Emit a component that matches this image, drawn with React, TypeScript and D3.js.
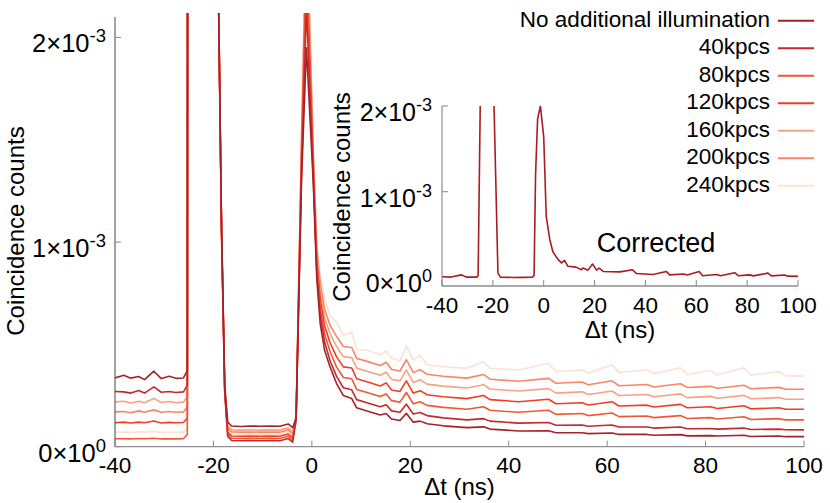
import { line, scaleLinear } from "d3";

const WIDTH = 830;
const HEIGHT = 503;
const FONT = "'Liberation Sans', Arial, Helvetica, sans-serif";

// time bins (ns) shared by the main-panel curves
const TIME = [
  -40, -38.2, -36.8, -35.2, -34, -32.1, -30.6, -29, -27.6, -26.1, -25.3, -24.7, -19.3, -19, -18.35, -17.7,
  -17.1, -16.3, -14.5, -12.5, -10.5, -8.5, -6.5, -4.8, -3.9, -3.2, -2.1, -1.1, 0.3, 1, 1.7, 2.6,
  3.7, 5, 6.4, 8.1, 9.1, 11.2, 13.9, 15.1, 16.2, 17.9, 19.2, 20.6, 22, 23.4, 26.7, 31.5, 34.9,
  36.2, 42, 48.1, 49.6, 54.9, 56.2, 61, 62.4, 68.1, 69.5, 74.9, 76.3, 81, 82.4, 87.8, 89.2, 94.9, 96.3, 100,
];

// coincidence counts, in units of 1e-3
const NO_ILLUM = [
  0.336, 0.349, 0.335, 0.343, 0.328, 0.369, 0.333, 0.344, 0.334, 0.336, 0.372, 30, 30, 2.25, 1.08, 0.3,
  0.121, 0.101, 0.099, 0.101, 0.1, 0.101, 0.1, 0.111, 0.093, 0.14, 1.3, 1.95, 1.28, 0.82, 0.6, 0.47,
  0.39, 0.31, 0.25, 0.235, 0.19, 0.175, 0.155, 0.162, 0.135, 0.128, 0.163, 0.12, 0.125, 0.112, 0.102, 0.093, 0.097,
  0.086, 0.077, 0.078, 0.068, 0.068, 0.064, 0.067, 0.06, 0.06, 0.056, 0.059, 0.053, 0.054, 0.052, 0.056, 0.05, 0.052, 0.049, 0.049,
];
const K40 = [
  0.27, 0.268, 0.262, 0.275, 0.262, 0.292, 0.266, 0.27, 0.265, 0.268, 0.3, 30, 30, 2.23, 1.04, 0.26,
  0.05, 0.03, 0.029, 0.03, 0.029, 0.03, 0.029, 0.04, 0.022, 0.13, 1.34, 2.15, 1.31, 0.85, 0.64, 0.51,
  0.42, 0.345, 0.288, 0.278, 0.23, 0.215, 0.195, 0.205, 0.175, 0.168, 0.208, 0.16, 0.167, 0.152, 0.141, 0.131, 0.137,
  0.125, 0.115, 0.118, 0.105, 0.106, 0.1, 0.106, 0.096, 0.096, 0.091, 0.096, 0.088, 0.089, 0.086, 0.091, 0.084, 0.086, 0.083, 0.082,
];
const K80 = [
  0.039, 0.039, 0.038, 0.04, 0.039, 0.041, 0.038, 0.039, 0.038, 0.039, 0.06, 30, 30, 2.27, 1.05, 0.27,
  0.061, 0.041, 0.04, 0.041, 0.04, 0.041, 0.04, 0.051, 0.033, 0.135, 1.38, 2.3, 1.34, 0.88, 0.68, 0.55,
  0.465, 0.39, 0.338, 0.332, 0.28, 0.265, 0.245, 0.258, 0.225, 0.218, 0.265, 0.21, 0.22, 0.202, 0.192, 0.183, 0.195,
  0.178, 0.168, 0.178, 0.158, 0.162, 0.152, 0.165, 0.147, 0.15, 0.142, 0.152, 0.138, 0.142, 0.135, 0.146, 0.133, 0.137, 0.131, 0.131,
];
const K120 = [
  0.117, 0.12, 0.116, 0.12, 0.117, 0.126, 0.116, 0.119, 0.117, 0.118, 0.14, 30, 30, 2.26, 1.06, 0.28,
  0.072, 0.052, 0.051, 0.052, 0.051, 0.052, 0.051, 0.062, 0.044, 0.14, 1.42, 2.4, 1.37, 0.91, 0.72, 0.59,
  0.508, 0.44, 0.39, 0.385, 0.332, 0.317, 0.297, 0.312, 0.277, 0.27, 0.322, 0.262, 0.274, 0.254, 0.244, 0.235, 0.25,
  0.23, 0.22, 0.232, 0.21, 0.215, 0.204, 0.22, 0.199, 0.203, 0.194, 0.207, 0.19, 0.195, 0.187, 0.2, 0.185, 0.19, 0.183, 0.183,
];
const K160 = [
  0.219, 0.222, 0.214, 0.222, 0.215, 0.236, 0.216, 0.221, 0.215, 0.218, 0.245, 30, 30, 2.28, 1.07, 0.29,
  0.102, 0.082, 0.081, 0.082, 0.081, 0.082, 0.081, 0.092, 0.074, 0.15, 1.46, 2.5, 1.4, 0.94, 0.76, 0.63,
  0.552, 0.49, 0.44, 0.435, 0.384, 0.369, 0.349, 0.364, 0.329, 0.322, 0.375, 0.314, 0.327, 0.306, 0.296, 0.287, 0.303,
  0.282, 0.272, 0.284, 0.262, 0.268, 0.255, 0.272, 0.25, 0.255, 0.244, 0.258, 0.24, 0.246, 0.237, 0.251, 0.234, 0.24, 0.232, 0.232,
];
const K200 = [
  0.17, 0.172, 0.166, 0.175, 0.168, 0.18, 0.168, 0.172, 0.168, 0.17, 0.195, 30, 30, 2.27, 1.06, 0.28,
  0.092, 0.072, 0.071, 0.072, 0.071, 0.072, 0.071, 0.082, 0.064, 0.145, 1.5, 2.6, 1.43, 0.97, 0.8, 0.67,
  0.592, 0.54, 0.49, 0.485, 0.432, 0.417, 0.397, 0.413, 0.377, 0.37, 0.425, 0.362, 0.377, 0.354, 0.344, 0.335, 0.353,
  0.33, 0.32, 0.334, 0.31, 0.316, 0.303, 0.322, 0.298, 0.304, 0.292, 0.308, 0.289, 0.295, 0.286, 0.3, 0.283, 0.29, 0.281, 0.281,
];
const K240 = [
  0.071, 0.072, 0.07, 0.073, 0.071, 0.075, 0.07, 0.072, 0.07, 0.071, 0.09, 30, 30, 2.29, 1.08, 0.29,
  0.082, 0.062, 0.061, 0.062, 0.061, 0.062, 0.061, 0.072, 0.054, 0.145, 1.55, 2.7, 1.46, 1, 0.84, 0.72,
  0.64, 0.61, 0.545, 0.56, 0.475, 0.473, 0.448, 0.469, 0.432, 0.419, 0.492, 0.424, 0.448, 0.4, 0.391, 0.383, 0.416,
  0.383, 0.375, 0.408, 0.367, 0.375, 0.36, 0.4, 0.362, 0.375, 0.357, 0.386, 0.352, 0.372, 0.35, 0.386, 0.35, 0.367, 0.346, 0.345,
];

// inset: corrected curve
const INSET_TIME = [
  -40, -36.5, -32.3, -30.5, -28, -26.3, -25.8, -24.8, -24.5, -19.8, -19.7, -18, -17, -12, -8, -4.5, -3.8,
  -3.2, -2.4, -1.3, 0, 1, 2.4, 3.6, 5.6, 7, 8.2, 9.5, 12.7, 14.8, 15.4, 17.4, 19.2, 20.8, 21.8, 23.4, 30,
  34.9, 36.5, 43, 48.2, 49.5, 55, 56.5, 61.1, 62.5, 68.1, 69.5, 75.1, 76.5, 81, 82.5, 88.2, 89.5, 94.8, 96, 100,
];
const CORRECTED = [
  0.008, 0.004, 0.03, 0.004, 0.003, 0.003, 0.02, 2.4, 30, 30, 2.2, 0.05, 0.003, 0, 0.001, 0.003, 0.02,
  1.2, 1.85, 2, 1.64, 0.71, 0.44, 0.3, 0.21, 0.17, 0.2, 0.13, 0.12, 0.09, 0.11, 0.085, 0.156, 0.085, 0.11, 0.07, 0.065,
  0.09, 0.045, 0.035, 0.07, 0.03, 0.04, 0.028, 0.07, 0.02, 0.035, 0.02, 0.055, 0.02, 0.03, 0.018, 0.05, 0.018, 0.028, 0.015, 0.012,
];

const X_TICKS = [-40, -20, 0, 20, 40, 60, 80, 100];
const Y_TICKS = [0, 1, 2];
const Y_TICK_MANTISSA = ["0", "1", "2"];
const Y_TICK_EXPONENT = ["0", "-3", "-3"];

const SERIES = [
  { name: "No additional illumination", color: "#a5222b", values: NO_ILLUM },
  { name: "40kpcs", color: "#c22a2d", values: K40 },
  { name: "80kpcs", color: "#ef5837", values: K80 },
  { name: "120kpcs", color: "#f03d24", values: K120 },
  { name: "160kpcs", color: "#f9a282", values: K160 },
  { name: "200kpcs", color: "#fb8565", values: K200 },
  { name: "240kpcs", color: "#fde1d4", values: K240 },
];

const mainX = scaleLinear().domain([-40, 100]).range([115, 804]);
const mainY = scaleLinear().domain([0, 2.1]).range([446.7, 17]);
const insetX = scaleLinear().domain([-40, 100]).range([442, 798]);
const insetY = scaleLinear().domain([-0.1, 2]).range([286, 106]);

function YLabel({ x, y, mant, exp, size, supSize }) {
  return (
    <text x={x} y={y} textAnchor="end" fontSize={size}>
      {mant}×10
      <tspan fontSize={supSize} dy={-10}>{exp}</tspan>
    </text>
  );
}

export default function App() {
  const mainLine = line<number>()
    .x((_, i) => mainX(TIME[i]))
    .y((v) => mainY(v));
  const insetLine = line<number>()
    .x((_, i) => insetX(INSET_TIME[i]))
    .y((v) => insetY(v));

  const [mx0, mx1] = mainX.range();
  const [my0, my1] = mainY.range();
  const [ix0, ix1] = insetX.range();
  const [iy0, iy1] = insetY.range();

  return (
    <div style={{ position: "absolute", left: 0, top: 0 }}>
      <svg width={WIDTH} height={HEIGHT} viewBox={`0 0 ${WIDTH} ${HEIGHT}`} fontFamily={FONT} fill="#000">
        <defs>
          <clipPath id="main-clip">
            <rect x={mx0} y={13} width={mx1 - mx0} height={my0 - 13 + 1} />
          </clipPath>
          <clipPath id="inset-clip">
            <rect x={ix0} y={iy1} width={ix1 - ix0} height={iy0 - iy1} />
          </clipPath>
        </defs>

        {/* main panel curves */}
        <g clipPath="url(#main-clip)">
          {[...SERIES].reverse().map((s) => (
            <path key={s.name} d={mainLine(s.values) ?? ""} fill="none" stroke={s.color} strokeWidth={1.6} strokeLinejoin="round" />
          ))}
        </g>

        {/* main axes */}
        <line x1={mx0} x2={mx0} y1={my1} y2={my0} stroke="#444" strokeWidth={1} />
        <line x1={mx0} x2={mx1} y1={my0} y2={my0} stroke="#777" strokeWidth={1} />
        {X_TICKS.map((t) => (
          <g key={t}>
            <line x1={mainX(t)} x2={mainX(t)} y1={my0} y2={my0 - 6} stroke="#888" />
            <text x={mainX(t)} y={473} textAnchor="middle" fontSize={22.5}>{t}</text>
          </g>
        ))}
        {Y_TICKS.map((v, i) => (
          <g key={v}>
            <line x1={mx0} x2={mx0 + 6} y1={mainY(v)} y2={mainY(v)} stroke="#888" />
            <YLabel x={106} y={mainY(v) + 15} mant={Y_TICK_MANTISSA[i]} exp={Y_TICK_EXPONENT[i]} size={25.5} supSize={18.5} />
          </g>
        ))}
        <text x={(mx0 + mx1) / 2} y={495} textAnchor="middle" fontSize={24}>Δt (ns)</text>
        <text transform="translate(24,231) rotate(-90)" textAnchor="middle" fontSize={24}>Coincidence counts</text>

        {/* inset */}
        <g clipPath="url(#inset-clip)">
          <path d={insetLine(CORRECTED) ?? ""} fill="none" stroke="#a81c24" strokeWidth={1.6} strokeLinejoin="round" />
        </g>
        <line x1={ix0} x2={ix0} y1={iy1} y2={iy0} stroke="#777" />
        <line x1={ix0} x2={ix1} y1={iy0} y2={iy0} stroke="#555" />
        {X_TICKS.map((t) => (
          <g key={t}>
            <line x1={insetX(t)} x2={insetX(t)} y1={iy0} y2={iy0 - 6} stroke="#888" />
            <text x={insetX(t)} y={313} textAnchor="middle" fontSize={22.5}>{t}</text>
          </g>
        ))}
        {Y_TICKS.map((v, i) => (
          <g key={v}>
            {v > 0 ? <line x1={ix0} x2={ix0 + 6} y1={insetY(v)} y2={insetY(v)} stroke="#888" /> : null}
            <YLabel x={432} y={insetY(v) + 15} mant={Y_TICK_MANTISSA[i]} exp={Y_TICK_EXPONENT[i]} size={25} supSize={18} />
          </g>
        ))}
        <text x={(ix0 + ix1) / 2} y={338} textAnchor="middle" fontSize={24}>Δt (ns)</text>
        <text transform="translate(350,197) rotate(-90)" textAnchor="middle" fontSize={24}>Coincidence counts</text>
        <text x={656} y={252} textAnchor="middle" fontSize={27}>Corrected</text>

        {/* legend */}
        {SERIES.map((s, i) => {
          const base = 26.7 + i * 27.5;
          return (
            <g key={s.name}>
              <text x={770} y={base} textAnchor="end" fontSize={22.5}>{s.name}</text>
              <line x1={778} x2={814} y1={base - 6} y2={base - 6} stroke={s.color} strokeWidth={2} />
            </g>
          );
        })}
      </svg>
    </div>
  );
}
